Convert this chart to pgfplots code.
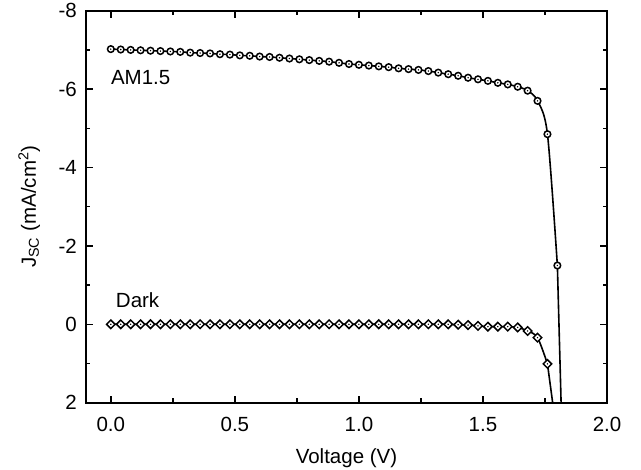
\documentclass[border=0pt]{standalone}
\usepackage{fontspec}
\setmainfont{Liberation Sans}
\usepackage{pgfplots}
\usepackage{pgfplotstable}
\pgfplotsset{compat=1.18}

\pgfplotstableread{
x y
0.00 -7.02
0.04 -7.01
0.08 -7.00
0.12 -6.99
0.16 -6.98
0.20 -6.97
0.24 -6.96
0.28 -6.95
0.32 -6.93
0.36 -6.92
0.40 -6.91
0.44 -6.89
0.48 -6.88
0.52 -6.86
0.56 -6.85
0.60 -6.83
0.64 -6.82
0.68 -6.80
0.72 -6.78
0.76 -6.76
0.80 -6.74
0.84 -6.72
0.88 -6.70
0.92 -6.67
0.96 -6.64
1.00 -6.62
1.04 -6.60
1.08 -6.58
1.12 -6.56
1.16 -6.53
1.20 -6.51
1.24 -6.49
1.28 -6.46
1.32 -6.42
1.36 -6.38
1.40 -6.34
1.44 -6.29
1.48 -6.25
1.52 -6.21
1.56 -6.16
1.60 -6.12
1.64 -6.06
1.68 -5.96
1.72 -5.70
1.76 -4.85
1.80 -1.50
}\amdata

\pgfplotstableread{
x y
0.00 0.00
0.04 0.00
0.08 0.00
0.12 0.00
0.16 0.00
0.20 0.00
0.24 0.00
0.28 0.00
0.32 0.00
0.36 0.00
0.40 0.00
0.44 0.00
0.48 0.00
0.52 0.00
0.56 0.00
0.60 0.00
0.64 0.00
0.68 0.00
0.72 0.00
0.76 0.00
0.80 0.00
0.84 0.00
0.88 0.00
0.92 0.00
0.96 0.00
1.00 0.00
1.04 0.00
1.08 0.00
1.12 0.00
1.16 0.00
1.20 0.00
1.24 0.00
1.28 0.00
1.32 0.00
1.36 0.00
1.40 0.01
1.44 0.02
1.48 0.04
1.52 0.06
1.56 0.06
1.60 0.06
1.64 0.08
1.68 0.17
1.72 0.34
1.76 1.01
}\darkdata

\begin{document}
\begin{tikzpicture}
\useasboundingbox (0,0) rectangle (641pt,470pt);
\begin{axis}[
  at={(86pt,67.3pt)}, anchor=south west,
  scale only axis, width=521pt, height=392pt,
  xmin=-0.1, xmax=2.0, ymin=-8, ymax=2,
  y dir=reverse,
  axis line style={line width=1.7pt},
  xtick={0,0.5,1,1.5,2},
  xticklabels={0.0,0.5,1.0,1.5,2.0},
  minor xtick={0.25,0.75,1.25,1.75},
  ytick={-8,-6,-4,-2,0,2},
  yticklabels={-8,-6,-4,-2,0,2},
  minor ytick={-7,-5,-3,-1,1},
  tick pos=both, tick align=inside,
  major tick length=7pt, minor tick length=4.5pt,
  every tick/.style={line width=1.4pt, black},
  xticklabel style={font=\fontsize{20.5}{24}\selectfont, anchor=north, inner sep=0pt, yshift=-14pt},
  yticklabel style={font=\fontsize{20.5}{24}\selectfont, anchor=east, inner sep=0pt, xshift=-9pt},
  xlabel={Voltage (V)},
  ylabel={J\textsubscript{SC} (mA/cm\textsuperscript{2})},
  xlabel style={font=\fontsize{20.5}{24}\selectfont, at={(axis description cs:0.5,-0.154)}, anchor=base, inner sep=0pt},
  ylabel style={font=\fontsize{20.5}{24}\selectfont, at={(axis description cs:-0.109,0.5)}, anchor=center, rotate=0, inner sep=0pt},
  clip=true,
]
% lines
\addplot[black, line width=1.6pt, smooth, no markers] table[x=x,y=y] {\amdata};
\addplot[black, line width=1.6pt, no markers] coordinates {(1.80,-1.50) (1.815,2.0)};
\addplot[black, line width=1.6pt, smooth, no markers] table[x=x,y=y] {\darkdata};
\addplot[black, line width=1.6pt, no markers] coordinates {(1.76,1.01) (1.781,2.0)};
% marks
\addplot[only marks, mark=*, mark size=3.3pt, mark options={draw=black, fill=white, line width=1.5pt}] table[x=x,y=y] {\amdata};
\addplot[only marks, mark=square*, mark size=3.0pt, mark options={rotate=45, draw=black, fill=white, line width=1.5pt}] table[x=x,y=y] {\darkdata};
\addplot[only marks, mark=*, mark size=0.5pt, mark options={draw=none, fill=black!60}] table[x=x,y=y] {\amdata};
\addplot[only marks, mark=*, mark size=0.5pt, mark options={draw=none, fill=black!60}] table[x=x,y=y] {\darkdata};
\node[anchor=base west, inner sep=0pt, font=\fontsize{20.5}{24}\selectfont] at (axis cs:0.0,-6.105) {AM1.5};
\node[anchor=base west, inner sep=0pt, font=\fontsize{20.5}{24}\selectfont] at (axis cs:0.02,-0.416) {Dark};
\end{axis}
\end{tikzpicture}
\end{document}
